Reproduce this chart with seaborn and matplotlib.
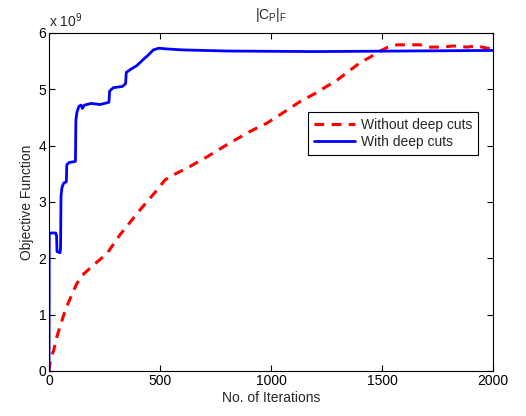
import matplotlib
matplotlib.use("Agg")
import matplotlib.pyplot as plt
import seaborn as sns
import pandas as pd

# Data (objective values in units of 1e9)
blue_iter = [0, 1, 5, 30, 34, 36, 50, 52, 54, 58, 65, 78, 80, 90, 119, 121, 126, 135, 145, 150,
             160, 190, 230, 270, 273, 290, 330, 345, 348, 370, 395, 430, 445, 470, 495, 520,
             600, 800, 1200, 1600, 2000]
blue_val = [0, 2.42, 2.45, 2.45, 2.4, 2.12, 2.1, 2.2, 3.1, 3.25, 3.33, 3.36, 3.66, 3.7, 3.72, 4.45,
            4.6, 4.7, 4.72, 4.66, 4.72, 4.75, 4.73, 4.77, 4.97, 5.03, 5.05, 5.1, 5.3, 5.36, 5.42,
            5.55, 5.6, 5.7, 5.73, 5.72, 5.7, 5.68, 5.67, 5.68, 5.69]
red_iter = [0, 3, 8, 20, 35, 50, 75, 100, 125, 150, 200, 260, 320, 410, 486, 522, 559, 621, 711,
            815, 919, 982, 1072, 1130, 1200, 1300, 1400, 1446, 1482, 1527, 1567, 1671, 1716,
            1775, 1820, 1883, 1928, 1973, 2000]
red_val = [0, 0.1, 0.25, 0.35, 0.6, 0.8, 1.1, 1.33, 1.55, 1.7, 1.88, 2.08, 2.42, 2.86, 3.21, 3.39,
           3.48, 3.6, 3.8, 4.05, 4.28, 4.4, 4.63, 4.78, 4.93, 5.17, 5.47, 5.57, 5.66, 5.75, 5.79,
           5.79, 5.75, 5.75, 5.77, 5.75, 5.77, 5.73, 5.72]
x_ticks = [0, 500, 1000, 1500, 2000]
y_ticks = [0, 1, 2, 3, 4, 5, 6]
labels = ["Without deep cuts", "With deep cuts"]

sns.set_style("white")
plt.rcParams['font.family'] = ['Liberation Sans', 'DejaVu Sans']
plt.rcParams['mathtext.fontset'] = 'custom'
plt.rcParams['mathtext.rm'] = 'Liberation Sans'
plt.rcParams['mathtext.it'] = 'Liberation Sans'

FS = 10
fig = plt.figure(figsize=(5.26, 4.16), dpi=100)
ax = fig.add_axes([0.0932, 0.1082, 0.8441, 0.8125])

red_df = pd.DataFrame({"it": red_iter, "val": red_val})
blue_df = pd.DataFrame({"it": blue_iter, "val": blue_val})
sns.lineplot(data=red_df, x="it", y="val", ax=ax, color="#ff0000", lw=2.2,
             linestyle=(0, (3.2, 2.4)), sort=False, estimator=None, label=labels[0])
sns.lineplot(data=blue_df, x="it", y="val", ax=ax, color="#0000ff", lw=2.0,
             sort=False, estimator=None, label=labels[1])

ax.set_xlim(0, 2000)
ax.set_ylim(0, 6)
ax.set_xticks(x_ticks)
ax.set_yticks(y_ticks)
ax.set_xticklabels([str(t) for t in x_ticks], fontsize=FS)
ax.set_yticklabels([str(t) for t in y_ticks], fontsize=FS)
ax.tick_params(direction="in", length=4, width=0.8, top=True, right=True,
               bottom=True, left=True, pad=2, colors="black")
for s in ax.spines.values():
    s.set_color("black")
    s.set_linewidth(0.8)
ax.set_xlabel("No. of Iterations", fontsize=FS, labelpad=2)
ax.set_ylabel("Objective Function", fontsize=FS, labelpad=3)
ax.set_title(r"$\mathregular{|C_P|_F}$", fontsize=FS, pad=10)
ax.text(0.0, 1.008, r"x 10$^{9}$", transform=ax.transAxes, fontsize=FS, ha="left", va="bottom")

leg = ax.legend(loc="upper right", bbox_to_anchor=(0.966, 0.766), fontsize=FS,
                frameon=True, fancybox=False, edgecolor="black", framealpha=1,
                handlelength=3.0, borderpad=0.4, labelspacing=0.25, handletextpad=0.4,
                borderaxespad=0)
leg.get_frame().set_linewidth(0.8)

fig.savefig("out.png", dpi=100)
